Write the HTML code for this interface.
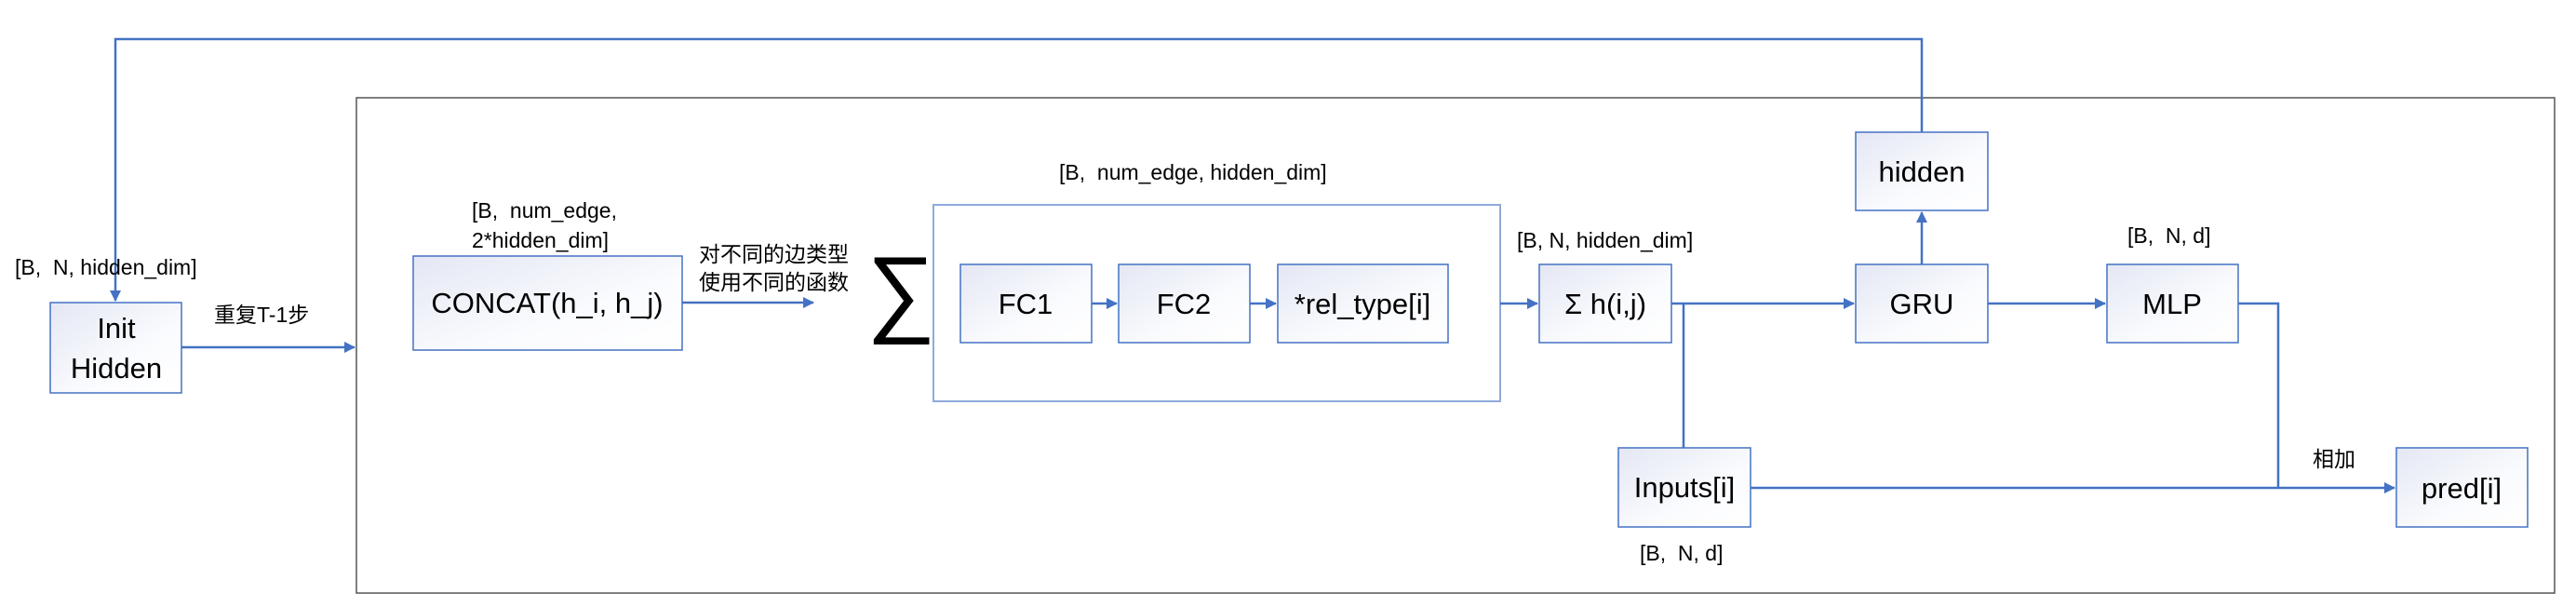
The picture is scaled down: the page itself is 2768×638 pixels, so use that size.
<!DOCTYPE html>
<html><head><meta charset="utf-8"><style>
html,body{margin:0;padding:0;background:#fff;}
svg{display:block;}
text{font-family:"Liberation Sans","Noto Sans CJK SC",sans-serif;fill:#000;white-space:pre;}
</style></head><body>
<svg width="2768" height="638" viewBox="0 0 2768 638" xmlns="http://www.w3.org/2000/svg" xml:space="preserve">
<defs>
<linearGradient id="g" x1="0" y1="0" x2="1" y2="1">
<stop offset="0" stop-color="#e4e7f4"/><stop offset="0.6" stop-color="#fafbfe"/><stop offset="1" stop-color="#ffffff"/>
</linearGradient>
<marker id="a" markerWidth="12" markerHeight="12" refX="11" refY="6" orient="auto" markerUnits="userSpaceOnUse">
<path d="M0,0 L12,6 L0,12 z" fill="#4472c4"/>
</marker>
</defs>
<rect x="383" y="105" width="2362" height="532" fill="none" stroke="#555" stroke-width="1.5"/>
<rect x="1003" y="220" width="609" height="211" fill="none" stroke="#8faadc" stroke-width="2"/>
<g stroke="#4472c4" stroke-width="2.5" fill="none">
<polyline points="2065,142 2065,42 124,42 124,323" marker-end="url(#a)"/>
<line x1="195" y1="373" x2="381" y2="373" marker-end="url(#a)"/>
<line x1="733" y1="325" x2="874" y2="325" marker-end="url(#a)"/>
<line x1="1173" y1="326" x2="1200" y2="326" marker-end="url(#a)"/>
<line x1="1343" y1="326" x2="1371" y2="326" marker-end="url(#a)"/>
<line x1="1612" y1="326" x2="1652" y2="326" marker-end="url(#a)"/>
<line x1="1796" y1="326" x2="1992" y2="326" marker-end="url(#a)"/>
<line x1="1809" y1="326" x2="1809" y2="481"/>
<line x1="2065" y1="284" x2="2065" y2="228" marker-end="url(#a)"/>
<line x1="2136" y1="326" x2="2262" y2="326" marker-end="url(#a)"/>
<polyline points="2405,326 2448,326 2448,524"/>
<line x1="1881" y1="524" x2="2573" y2="524" marker-end="url(#a)"/>
</g>
<g fill="url(#g)" stroke="#4472c4" stroke-width="1.5">
<rect x="54" y="325" width="141" height="97"/>
<rect x="444" y="275" width="289" height="101"/>
<rect x="1032" y="284" width="141" height="84"/>
<rect x="1202" y="284" width="141" height="84"/>
<rect x="1373" y="284" width="183" height="84"/>
<rect x="1654" y="284" width="142" height="84"/>
<rect x="1739" y="481" width="142" height="85"/>
<rect x="1994" y="142" width="142" height="84"/>
<rect x="1994" y="284" width="142" height="84"/>
<rect x="2264" y="284" width="141" height="84"/>
<rect x="2575" y="481" width="141" height="85"/>
</g>
<g font-size="31" text-anchor="middle">
<text x="125" y="363">Init</text>
<text x="125" y="406">Hidden</text>
<text x="588" y="336">CONCAT(h_i, h_j)</text>
<text x="1102" y="337">FC1</text>
<text x="1272" y="337">FC2</text>
<text x="1464" y="337">*rel_type[i]</text>
<text x="1725" y="337">Σ h(i,j)</text>
<text x="1810" y="534">Inputs[i]</text>
<text x="2065" y="195">hidden</text>
<text x="2065" y="337">GRU</text>
<text x="2334" y="337">MLP</text>
<text x="2645" y="535">pred[i]</text>
</g>
<text x="931" y="348" font-size="104">∑</text>
<g font-size="23">
<text x="16" y="295">[B,  N, hidden_dim]</text>
<text x="230" y="346">重复T-1步</text>
<text x="507" y="234">[B,  num_edge,</text>
<text x="507" y="266">2*hidden_dim]</text>
<text x="751" y="281">对不同的边类型</text>
<text x="751" y="311">使用不同的函数</text>
<text x="1138" y="193">[B,  num_edge, hidden_dim]</text>
<text x="1630" y="266">[B, N, hidden_dim]</text>
<text x="1762" y="602">[B,  N, d]</text>
<text x="2286" y="261">[B,  N, d]</text>
<text x="2485" y="501">相加</text>
</g>
</svg>
</body></html>
